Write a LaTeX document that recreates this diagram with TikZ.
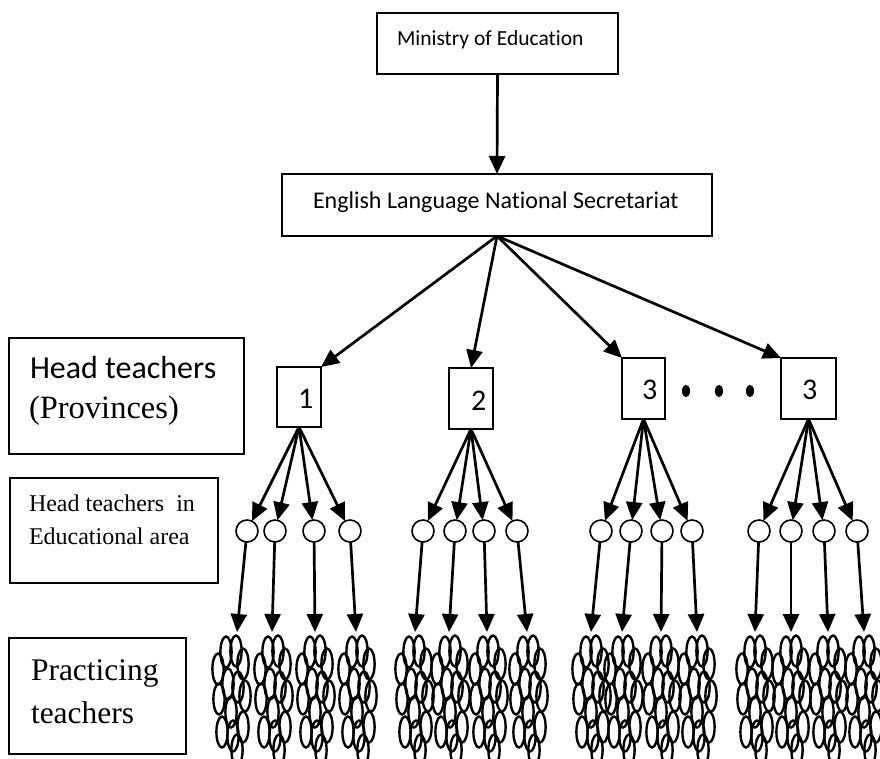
\documentclass[tikz,border=0pt]{standalone}
\usepackage{fontspec}
\setmainfont{Liberation Serif}
\newfontfamily\calfont[Ligatures=NoCommon]{Carlito}
\usetikzlibrary{arrows.meta}
\tikzset{
  boxst/.style={draw, line width=2pt, rectangle, inner sep=0pt, outer sep=0pt},
  txt/.style={inner sep=0pt, outer sep=0pt, anchor=base west},
  arr/.style={line width=2.7pt, -{Triangle[length=18pt,width=16pt]}},
  circ/.style={draw, line width=1.6pt, circle, minimum size=22pt, inner sep=0pt, outer sep=0pt},
  oval/.style={line width=2.4pt}
}
\newcommand{\cluster}[1]{%
  \foreach \dx/\yy in {-5/652,5/651,-13/669,12/664,-3/684,7/687,-12/699,14/696,0/712,-9/732,2/736,12/727,6/750}{
    \draw[oval] (#1+\dx,\yy) ellipse [x radius=5.6pt, y radius=15.5pt];
  }}
\begin{document}
\begin{tikzpicture}[x=1pt,y=-1pt]
\useasboundingbox (0,0) rectangle (880,758);
\fill[white] (0,0) rectangle (880,758);
% boxes
\node[boxst, minimum width=241pt, minimum height=61pt] (min) at (497.5,43.5) {};
\node[boxst, minimum width=430pt, minimum height=62pt] (elns) at (497,205) {};
\node[boxst, minimum width=235pt, minimum height=116pt] (ht) at (126.5,396) {};
\node[boxst, minimum width=208pt, minimum height=105pt] (hte) at (114,530.5) {};
\node[boxst, minimum width=177pt, minimum height=116pt] (ptb) at (97.5,696) {};
\node[boxst, minimum width=44pt, minimum height=60pt] (b1) at (299,397) {};
\node[boxst, minimum width=44pt, minimum height=61pt] (b2) at (471,398.5) {};
\node[boxst, minimum width=43pt, minimum height=61pt] (b3) at (643.5,388.5) {};
\node[boxst, minimum width=55pt, minimum height=61pt] (b4) at (808.5,388.5) {};
% texts
\node[txt, font=\calfont\fontsize{21.5}{24}\selectfont] (tmin) at (397,45) {Ministry of Education};
\node[txt, font=\calfont\fontsize{24}{28}\selectfont] (telns) at (313,208) {English Language National Secretariat};
\node[txt, font=\calfont\fontsize{32}{34}\selectfont] (tht1) at (30,378) {Head teachers};
\node[txt, font=\fontsize{32.5}{34}\selectfont] (tht2) at (29,418) {(Provinces)};
\node[txt, font=\fontsize{24}{28}\selectfont] (the1) at (29,511) {Head teachers~ in};
\node[txt, font=\fontsize{24}{28}\selectfont] (the2) at (29,544) {Educational area};
\node[txt, font=\fontsize{31.5}{34}\selectfont] (tpt1) at (31,680) {Practicing};
\node[txt, font=\fontsize{31.5}{34}\selectfont] (tpt2) at (31,723) {teachers};
\node[txt, font=\calfont\fontsize{30}{34}\selectfont] (n1) at (298,408) {1};
\node[txt, font=\calfont\fontsize{30}{34}\selectfont] (n2) at (471,410) {2};
\node[txt, font=\calfont\fontsize{30}{34}\selectfont] (n3) at (642,399) {3};
\node[txt, font=\calfont\fontsize{30}{34}\selectfont] (n4) at (802,399) {3};
% dots
\foreach \x in {686,719,750}{\fill (\x,391) ellipse [x radius=4pt, y radius=6.2pt];}
% top arrows
\draw[arr] (min.south) -- (elns.north);
\draw[arr] (elns.south) -- (b1.north east);
\draw[arr] (elns.south) -- (b2.north);
\draw[arr] (elns.south) -- (b3.north west);
\draw[arr] (elns.south) -- (b4.north west);
% circles, lower arrows
\foreach \g/\b/\xa/\xb/\xc/\xd/\ta/\tb/\tc/\td in {
  1/b1/247/275/314/350/237/272/315/356,
  2/b2/423/455/484/517/415/449/487/527,
  3/b3/601/631/662/692/591/622/661/697,
  4/b4/759/791/824/857/755/791/828/864}{
  \node[circ] (c\g a) at (\xa,531) {};
  \node[circ] (c\g b) at (\xb,531) {};
  \node[circ] (c\g c) at (\xc,531) {};
  \node[circ] (c\g d) at (\xd,531) {};
  \coordinate (t\g a) at (\ta,632);
  \coordinate (t\g b) at (\tb,632);
  \coordinate (t\g c) at (\tc,632);
  \coordinate (t\g d) at (\td,632);
  \foreach \k in {a,b,c,d}{
    \draw[arr] (\b.south) -- (c\g\k);
    \draw[arr] (c\g\k) -- (t\g\k);
  }
}
% clusters of practicing teachers
\begin{scope}
\clip (0,0) rectangle (880,758);
\foreach \cx in {231,273,315,357,414,450,488,528,591,623,661,697,755,791,828,864}{\cluster{\cx}}
\end{scope}
\end{tikzpicture}
\end{document}
